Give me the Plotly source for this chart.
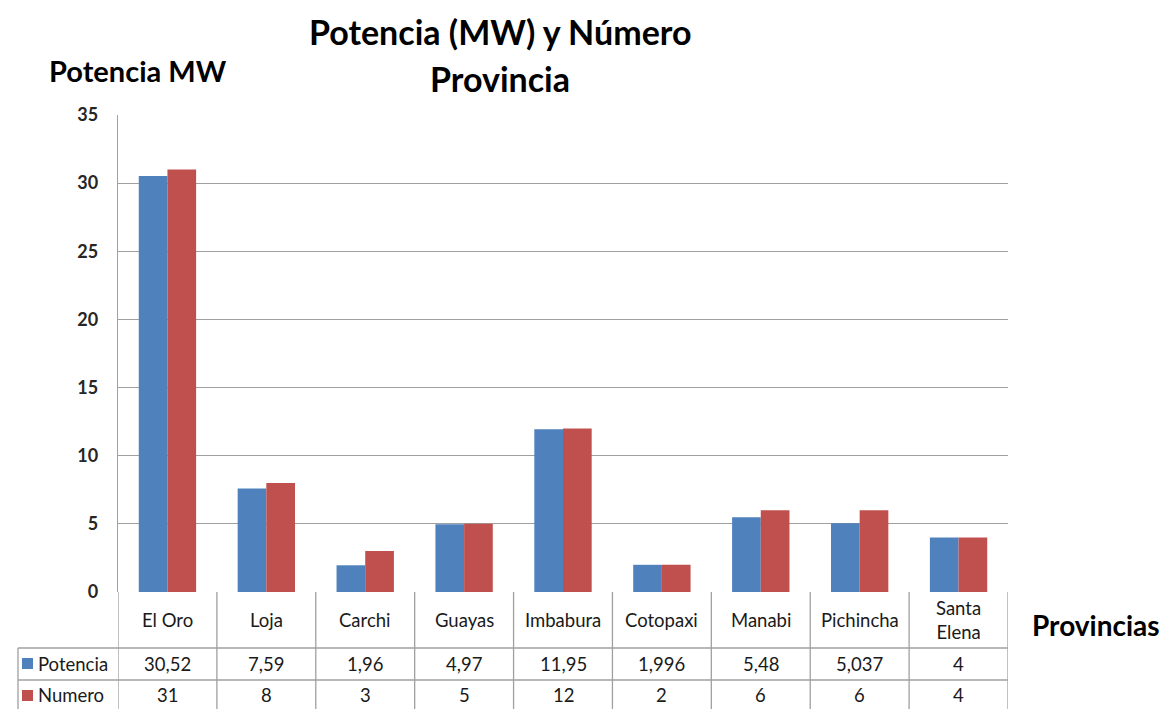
import plotly.graph_objects as go

# Data
provincias = ["El Oro", "Loja", "Carchi", "Guayas", "Imbabura",
              "Cotopaxi", "Manabi", "Pichincha", "Santa Elena"]
potencia = [30.52, 7.59, 1.96, 4.97, 11.95, 1.996, 5.48, 5.037, 4]
numero = [31, 8, 3, 5, 12, 2, 6, 6, 4]
y_ticks = [0, 5, 10, 15, 20, 25, 30, 35]

BLUE = "#4F81BD"
RED = "#C0504D"
GRID = "#A0A0A0"
FONT = "Lato"

W, H = 1163, 709
L, R, T, B = 118, 155, 115, 117
plot_h = H - T - B
plot_w = W - L - R


def py(pix):
    """pixel row -> paper y"""
    return (H - B - pix) / plot_h


def px(pix):
    """pixel column -> paper x"""
    return (pix - L) / plot_w


def fmt(v):
    s = f"{v:g}"
    return s.replace(".", ",")


fig = go.Figure()
fig.add_trace(go.Bar(x=provincias, y=potencia, name="Potencia",
                     marker=dict(color=BLUE, line=dict(width=0))))
fig.add_trace(go.Bar(x=provincias, y=numero, name="Numero",
                     marker=dict(color=RED, line=dict(width=0))))

shapes = []
line = dict(color=GRID, width=1.3)
n = len(provincias)
y_head = py(648)
y_row1 = py(680)
y_bot = py(709)
x_leg = px(18)

# table column separators
for i in range(n + 1):
    shapes.append(dict(type="line", xref="x", yref="paper",
                       x0=i - 0.5, x1=i - 0.5, y0=0, y1=y_bot, line=line))
# legend column left edge
shapes.append(dict(type="line", xref="paper", yref="paper",
                   x0=x_leg, x1=x_leg, y0=y_head, y1=y_bot, line=line))
# row separators
for yy in (y_head, y_row1):
    shapes.append(dict(type="line", xref="paper", yref="paper",
                       x0=x_leg, x1=1, y0=yy, y1=yy, line=line))
# legend keys
for (top, col) in ((658, BLUE), (690, RED)):
    shapes.append(dict(type="rect", xref="paper", yref="paper",
                       x0=px(22), x1=px(33), y0=py(top + 11), y1=py(top),
                       fillcolor=col, line=dict(width=0)))

ann = []
cell_font = dict(family=FONT, size=18.5, color="#1a1a1a")
for i, name in enumerate(provincias):
    label = name.replace(" ", "<br>") if name == "Santa Elena" else name
    ann.append(dict(x=i, y=py(620), xref="x", yref="paper", text=label,
                    showarrow=False, font=cell_font, xanchor="center",
                    yanchor="middle"))
    ann.append(dict(x=i, y=py(664), xref="x", yref="paper",
                    text=fmt(potencia[i]), showarrow=False, font=cell_font,
                    xanchor="center", yanchor="middle"))
    ann.append(dict(x=i, y=py(695), xref="x", yref="paper",
                    text=fmt(numero[i]), showarrow=False, font=cell_font,
                    xanchor="center", yanchor="middle"))
for text, yc in (("Potencia", 664), ("Numero", 695)):
    ann.append(dict(x=px(36), y=py(yc), xref="paper", yref="paper",
                    text=text, showarrow=False, font=cell_font,
                    xanchor="left", yanchor="middle"))

# titles
title_font = dict(family=FONT, size=34, color="black", weight="bold")
ann.append(dict(x=px(500), y=py(32), xref="paper", yref="paper",
                text="Potencia (MW) y Número", showarrow=False,
                font=title_font, xanchor="center", yanchor="middle"))
ann.append(dict(x=px(500), y=py(78), xref="paper", yref="paper",
                text="Provincia", showarrow=False,
                font=title_font, xanchor="center", yanchor="middle"))
ann.append(dict(x=px(47), y=py(70), xref="paper", yref="paper",
                text="Potencia MW", showarrow=False,
                font=dict(family=FONT, size=29, color="black", weight="bold"),
                xanchor="left", yanchor="middle"))
ann.append(dict(x=px(1030), y=py(625), xref="paper", yref="paper",
                text="Provincias", showarrow=False,
                font=dict(family=FONT, size=28, color="black", weight="bold"),
                xanchor="left", yanchor="middle"))

fig.update_layout(
    width=W, height=H,
    margin=dict(l=L, r=R, t=T, b=B),
    paper_bgcolor="white", plot_bgcolor="white",
    barmode="group", bargap=0.42, bargroupgap=0,
    showlegend=False,
    shapes=shapes, annotations=ann,
    xaxis=dict(range=[-0.5, n - 0.5], showticklabels=False,
               showgrid=False, zeroline=False, showline=False,
               ticks=""),
    yaxis=dict(range=[0, 35], tickvals=y_ticks, showgrid=True,
               gridcolor=GRID, gridwidth=1.3, zeroline=False,
               showline=True, linecolor=GRID, linewidth=1.3,
               ticks="", ticklabelstandoff=15,
               tickfont=dict(family=FONT, size=18, color="#262626",
                             weight="bold")),
)

fig.write_html("out.html")
